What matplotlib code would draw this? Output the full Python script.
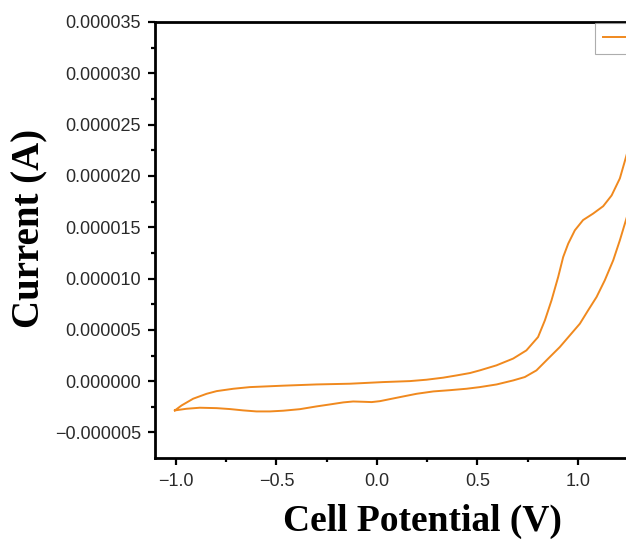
import matplotlib
matplotlib.use("Agg")
import matplotlib.pyplot as plt
from matplotlib.ticker import MultipleLocator, FuncFormatter

# Forward (anodic) scan: potential (V) and current (A)
fwd_v = [-1.005, -0.972, -0.914, -0.847, -0.797, -0.714, -0.632, -0.466, -0.300, -0.134, 0.031, 0.164,
         0.247, 0.330, 0.397, 0.463, 0.512, 0.595, 0.678, 0.744, 0.802, 0.836, 0.869, 0.902, 0.927, 0.952,
         0.985, 1.026, 1.076, 1.126, 1.168, 1.209, 1.239, 1.30]
fwd_i = [-2.85e-6, -2.37e-6, -1.71e-6, -1.23e-6, -0.97e-6, -0.74e-6, -0.58e-6, -0.44e-6, -0.32e-6,
         -0.25e-6, -0.09e-6, 0.005e-6, 0.14e-6, 0.34e-6, 0.56e-6, 0.79e-6, 1.05e-6, 1.54e-6, 2.20e-6,
         3.00e-6, 4.30e-6, 5.93e-6, 7.88e-6, 10.15e-6, 12.1e-6, 13.4e-6, 14.7e-6, 15.7e-6, 16.33e-6,
         17.05e-6, 18.1e-6, 19.76e-6, 21.8e-6, 26.0e-6]
# Reverse (cathodic) scan
rev_v = [1.30, 1.239, 1.209, 1.176, 1.134, 1.093, 1.051, 1.010, 0.960, 0.910, 0.852, 0.794, 0.736, 0.678,
         0.596, 0.512, 0.446, 0.363, 0.281, 0.198, 0.131, 0.065, 0.015, -0.026, -0.068, -0.118, -0.167,
         -0.234, -0.300, -0.383, -0.466, -0.532, -0.599, -0.665, -0.731, -0.797, -0.881, -0.947, -1.005]
rev_i = [19.5e-6, 15.68e-6, 13.73e-6, 11.78e-6, 9.83e-6, 8.20e-6, 6.90e-6, 5.60e-6, 4.46e-6, 3.32e-6,
         2.19e-6, 1.05e-6, 0.40e-6, 0.07e-6, -0.32e-6, -0.58e-6, -0.74e-6, -0.88e-6, -1.00e-6, -1.23e-6,
         -1.49e-6, -1.75e-6, -1.95e-6, -2.04e-6, -2.01e-6, -1.98e-6, -2.07e-6, -2.27e-6, -2.46e-6,
         -2.73e-6, -2.88e-6, -2.95e-6, -2.95e-6, -2.85e-6, -2.72e-6, -2.63e-6, -2.59e-6, -2.69e-6, -2.85e-6]

x_ticks = [-1.0, -0.5, 0.0, 0.5, 1.0]
series_label = " "
x_label = "Cell Potential (V)"
y_label = "Current (A)"

fig = plt.figure(figsize=(6.26, 5.42), dpi=100)
ax = fig.add_axes([155 / 626, 1 - 457.5 / 542, 534 / 626, (457.5 - 22) / 542])

color = "#F0891E"
line, = ax.plot(fwd_v + rev_v, fwd_i + rev_i, color=color, lw=1.4)

ax.set_xlim(-1.104, 1.553)
ax.set_ylim(-7.44e-6, 35e-6)
ax.set_xticks(x_ticks)
ax.xaxis.set_minor_locator(MultipleLocator(0.25))
ax.yaxis.set_major_locator(MultipleLocator(5e-6))
ax.yaxis.set_minor_locator(MultipleLocator(2.5e-6))
ax.yaxis.set_major_formatter(FuncFormatter(
    lambda v, p: ("%.6f" % v).replace("-", "\u2212") if abs(v) > 1e-12 else "0.000000"))
ax.xaxis.set_major_formatter(FuncFormatter(
    lambda v, p: ("%.1f" % v).replace("-", "\u2212") if abs(v) > 1e-9 else "0.0"))

for s in ax.spines.values():
    s.set_linewidth(2.0)
ax.tick_params(which="major", direction="out", length=5, width=1.6, labelsize=13)
ax.tick_params(axis="x", which="major", pad=6)
ax.tick_params(axis="y", which="major", pad=5)
ax.tick_params(which="minor", direction="out", length=3, width=1.6)
for lab in ax.get_xticklabels() + ax.get_yticklabels():
    lab.set_fontfamily("Liberation Sans")
    lab.set_color("#2a2a2a")

fig.text(422 / 626, 1 - 521 / 542, x_label, fontfamily="Liberation Serif", fontweight="bold",
         fontsize=27, ha="center", va="center")
fig.text(30 / 626, 1 - 228 / 542, y_label, fontfamily="Liberation Serif", fontweight="bold",
         fontsize=28, ha="center", va="center", rotation=90)

leg = fig.legend([line], [series_label], loc="upper left", bbox_to_anchor=(595 / 626, 1 - 23 / 542),
                 bbox_transform=fig.transFigure, frameon=True, fancybox=False, borderaxespad=0,
                 borderpad=0.6, handlelength=2.5, prop={"family": "Liberation Sans", "size": 10})
leg.get_frame().set_edgecolor("#999999")
leg.get_frame().set_linewidth(0.8)

fig.savefig("out.png", dpi=100)
